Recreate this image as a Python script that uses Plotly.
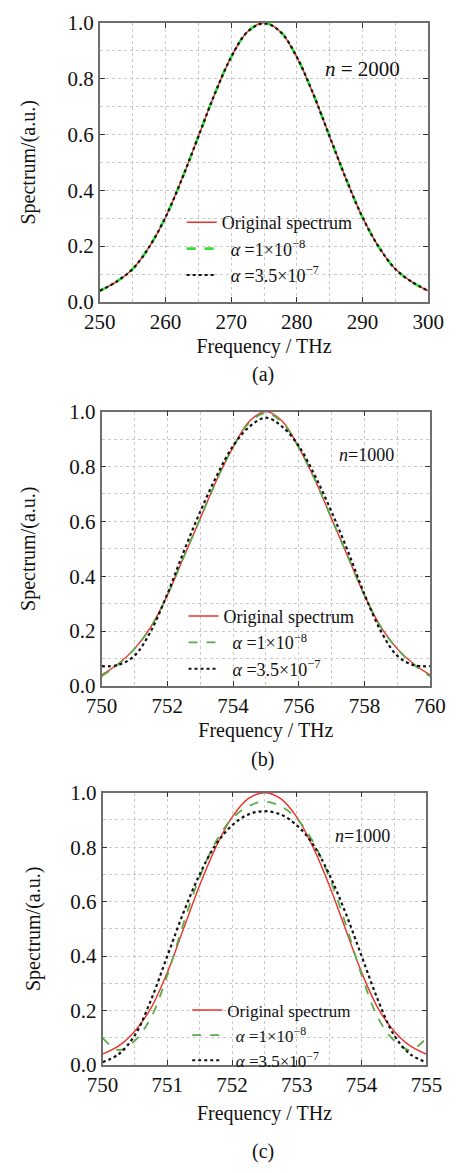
import plotly.graph_objects as go

# ---------------- data ----------------
# Panel (a), n = 2000
freq_a = [250, 252.5, 255, 257.5, 260, 262.5, 265, 267.5, 270, 272.5, 275,
          277.5, 280, 282.5, 285, 287.5, 290, 292.5, 295, 297.5, 300]
orig_a = [0.04, 0.072, 0.118, 0.196, 0.303, 0.44, 0.592, 0.745, 0.877, 0.968, 1.0,
          0.968, 0.877, 0.745, 0.592, 0.44, 0.303, 0.196, 0.118, 0.072, 0.04]
a1_a = [0.04, 0.072, 0.118, 0.196, 0.303, 0.44, 0.592, 0.745, 0.877, 0.968, 0.999,
        0.968, 0.877, 0.745, 0.592, 0.44, 0.303, 0.196, 0.118, 0.072, 0.04]
a2_a = [0.04, 0.072, 0.118, 0.196, 0.303, 0.44, 0.592, 0.745, 0.877, 0.968, 0.998,
        0.968, 0.877, 0.745, 0.592, 0.44, 0.303, 0.196, 0.118, 0.072, 0.04]

# Panel (b), n = 1000
freq_b = [750, 750.5, 751, 751.5, 752, 752.5, 753, 753.5, 754, 754.5, 755,
          755.5, 756, 756.5, 757, 757.5, 758, 758.5, 759, 759.5, 760]
orig_b = [0.04, 0.08, 0.135, 0.215, 0.33, 0.47, 0.61, 0.75, 0.87, 0.965, 1.0,
          0.965, 0.87, 0.75, 0.61, 0.47, 0.33, 0.215, 0.135, 0.08, 0.04]
a1_b = [0.035, 0.078, 0.135, 0.215, 0.33, 0.47, 0.61, 0.75, 0.87, 0.96, 0.995,
        0.96, 0.87, 0.75, 0.61, 0.47, 0.33, 0.215, 0.135, 0.078, 0.035]
a2_b = [0.072, 0.076, 0.11, 0.20, 0.335, 0.49, 0.635, 0.765, 0.875, 0.945, 0.978,
        0.945, 0.875, 0.765, 0.635, 0.49, 0.335, 0.20, 0.11, 0.076, 0.072]

# Panel (c), n = 1000
freq_c = [750, 750.25, 750.5, 750.75, 751, 751.25, 751.5, 751.75, 752, 752.25, 752.5,
          752.75, 753, 753.25, 753.5, 753.75, 754, 754.25, 754.5, 754.75, 755]
orig_c = [0.04, 0.07, 0.125, 0.21, 0.34, 0.50, 0.66, 0.80, 0.91, 0.978, 1.0,
          0.978, 0.91, 0.80, 0.66, 0.50, 0.34, 0.21, 0.125, 0.07, 0.04]
a1_c = [0.10, 0.055, 0.09, 0.175, 0.33, 0.52, 0.69, 0.82, 0.905, 0.95, 0.967,
        0.95, 0.905, 0.82, 0.69, 0.52, 0.33, 0.175, 0.09, 0.055, 0.10]
a2_c = [0.01, 0.04, 0.11, 0.24, 0.40, 0.56, 0.70, 0.81, 0.88, 0.92, 0.932,
        0.92, 0.88, 0.81, 0.70, 0.56, 0.40, 0.24, 0.11, 0.04, 0.01]

y_ticks = [0.0, 0.2, 0.4, 0.6, 0.8, 1.0]
names = ["Original spectrum",
         "&nbsp;&nbsp;<i>α</i> =1×10<sup>−8</sup>",
         "&nbsp;&nbsp;<i>α</i> =3.5×10<sup>−7</sup>"]
x_title = "Frequency / THz"
y_title = "Spectrum/(a.u.)"

# ---------------- figure ----------------
W, H = 461, 1173
SERIF = "Times New Roman, Liberation Serif, serif"

fig = go.Figure()

panels = [
    dict(x=freq_a, ys=(orig_a, a1_a, a2_a), xs="x", ys_ax="y", leg="legend",
         green="#33e033", gw=2.6),
    dict(x=freq_b, ys=(orig_b, a1_b, a2_b), xs="x2", ys_ax="y2", leg="legend2",
         green="#5aaa48", gw=1.8),
    dict(x=freq_c, ys=(orig_c, a1_c, a2_c), xs="x3", ys_ax="y3", leg="legend3",
         green="#5aaa48", gw=1.8),
]

for p in panels:
    o, g, k = p["ys"]
    fig.add_trace(go.Scatter(x=p["x"], y=o, mode="lines", name=names[0],
                             line=dict(color="#e8322c", width=1.4, shape="spline"),
                             xaxis=p["xs"], yaxis=p["ys_ax"], legend=p["leg"]))
    fig.add_trace(go.Scatter(x=p["x"], y=g, mode="lines", name=names[1],
                             line=dict(color=p["green"], width=p["gw"], dash="dash",
                                       shape="spline"),
                             xaxis=p["xs"], yaxis=p["ys_ax"], legend=p["leg"]))
    fig.add_trace(go.Scatter(x=p["x"], y=k, mode="lines", name=names[2],
                             line=dict(color="#111111", width=2.2, dash="dot",
                                       shape="spline"),
                             xaxis=p["xs"], yaxis=p["ys_ax"], legend=p["leg"]))


def px_x(v):
    return v / W


def px_y(v):
    return 1 - v / H


grid = dict(showgrid=True, gridcolor="#c9c9c9", griddash="dot", gridwidth=1)
common = dict(showline=True, linecolor="#6e6e6e", linewidth=1.6, mirror="ticks",
              ticks="inside", ticklen=5, tickwidth=1.2, tickcolor="#333333",
              zeroline=False, tickfont=dict(family=SERIF, size=21, color="#111"),
              **grid)
title_font = dict(family=SERIF, size=20, color="#111")

# axis geometry in pixels: (x0, x1, ytop, ybottom)
geo = [(90, 443, 11, 296), (92, 445, 408, 688), (93, 441, 797, 1075)]
xranges = [[250, 300], [750, 760], [750, 755]]
xdt = [10, 2, 1]
xminor = [5, 1, 0.5]
x_standoff = [6, 6, 10]
y_standoff = [26, 28, 24]

for i, ((x0, x1, yt, yb), xr, dt, mn) in enumerate(zip(geo, xranges, xdt, xminor)):
    sfx = "" if i == 0 else str(i + 1)
    fig.layout["xaxis" + sfx] = dict(
        domain=[px_x(x0), px_x(x1)], range=xr, dtick=dt, tick0=xr[0],
        anchor="y" + sfx,
        title=dict(text=x_title, font=title_font, standoff=x_standoff[i]),
        minor=dict(dtick=mn, showgrid=True, gridcolor="#c9c9c9", griddash="dot"),
        **common)
    fig.layout["yaxis" + sfx] = dict(
        domain=[px_y(yb), px_y(yt)], range=[0, 1.0], tickvals=y_ticks,
        tickformat=".1f", anchor="x" + sfx,
        title=dict(text=y_title, font=title_font, standoff=y_standoff[i]),
        minor=dict(dtick=0.1, showgrid=True, gridcolor="#c9c9c9", griddash="dot"),
        **common)

# legends
leg_common = dict(bgcolor="rgba(0,0,0,0)", xanchor="left", yanchor="top",
                  itemwidth=30, tracegroupgap=0)
fig.update_layout(
    legend=dict(x=px_x(178), y=px_y(196),
                font=dict(family=SERIF, size=18, color="#111"), **leg_common),
    legend2=dict(x=px_x(180), y=px_y(598),
                 font=dict(family=SERIF, size=18, color="#111"), **leg_common),
    legend3=dict(x=px_x(184), y=px_y(1001),
                 font=dict(family=SERIF, size=17, color="#111"), **leg_common),
)

ann = []
# n labels
ann.append(dict(text="<i>n</i> = 2000", x=px_x(372), y=px_y(58), font=dict(size=21)))
ann.append(dict(text="<i>n</i>=1000", x=px_x(377), y=px_y(452), font=dict(size=18)))
ann.append(dict(text="<i>n</i>=1000", x=px_x(372), y=px_y(841), font=dict(size=18)))
# captions
for t, yy in (("(a)", 370), ("(b)", 763), ("(c)", 1163)):
    ann.append(dict(text=t, x=px_x(265), y=px_y(yy), font=dict(size=20)))

for a in ann:
    a.update(xref="paper", yref="paper", showarrow=False, xanchor="center",
             yanchor="middle")
    a["font"].update(family=SERIF, color="#111")

fig.update_layout(width=W, height=H, autosize=False,
                  margin=dict(l=0, r=0, t=0, b=0),
                  paper_bgcolor="white", plot_bgcolor="white",
                  annotations=ann)

fig.write_html("out.html", config={"displayModeBar": False},
               post_script="document.body.style.margin='0';"
                           "document.body.style.overflow='hidden';")
